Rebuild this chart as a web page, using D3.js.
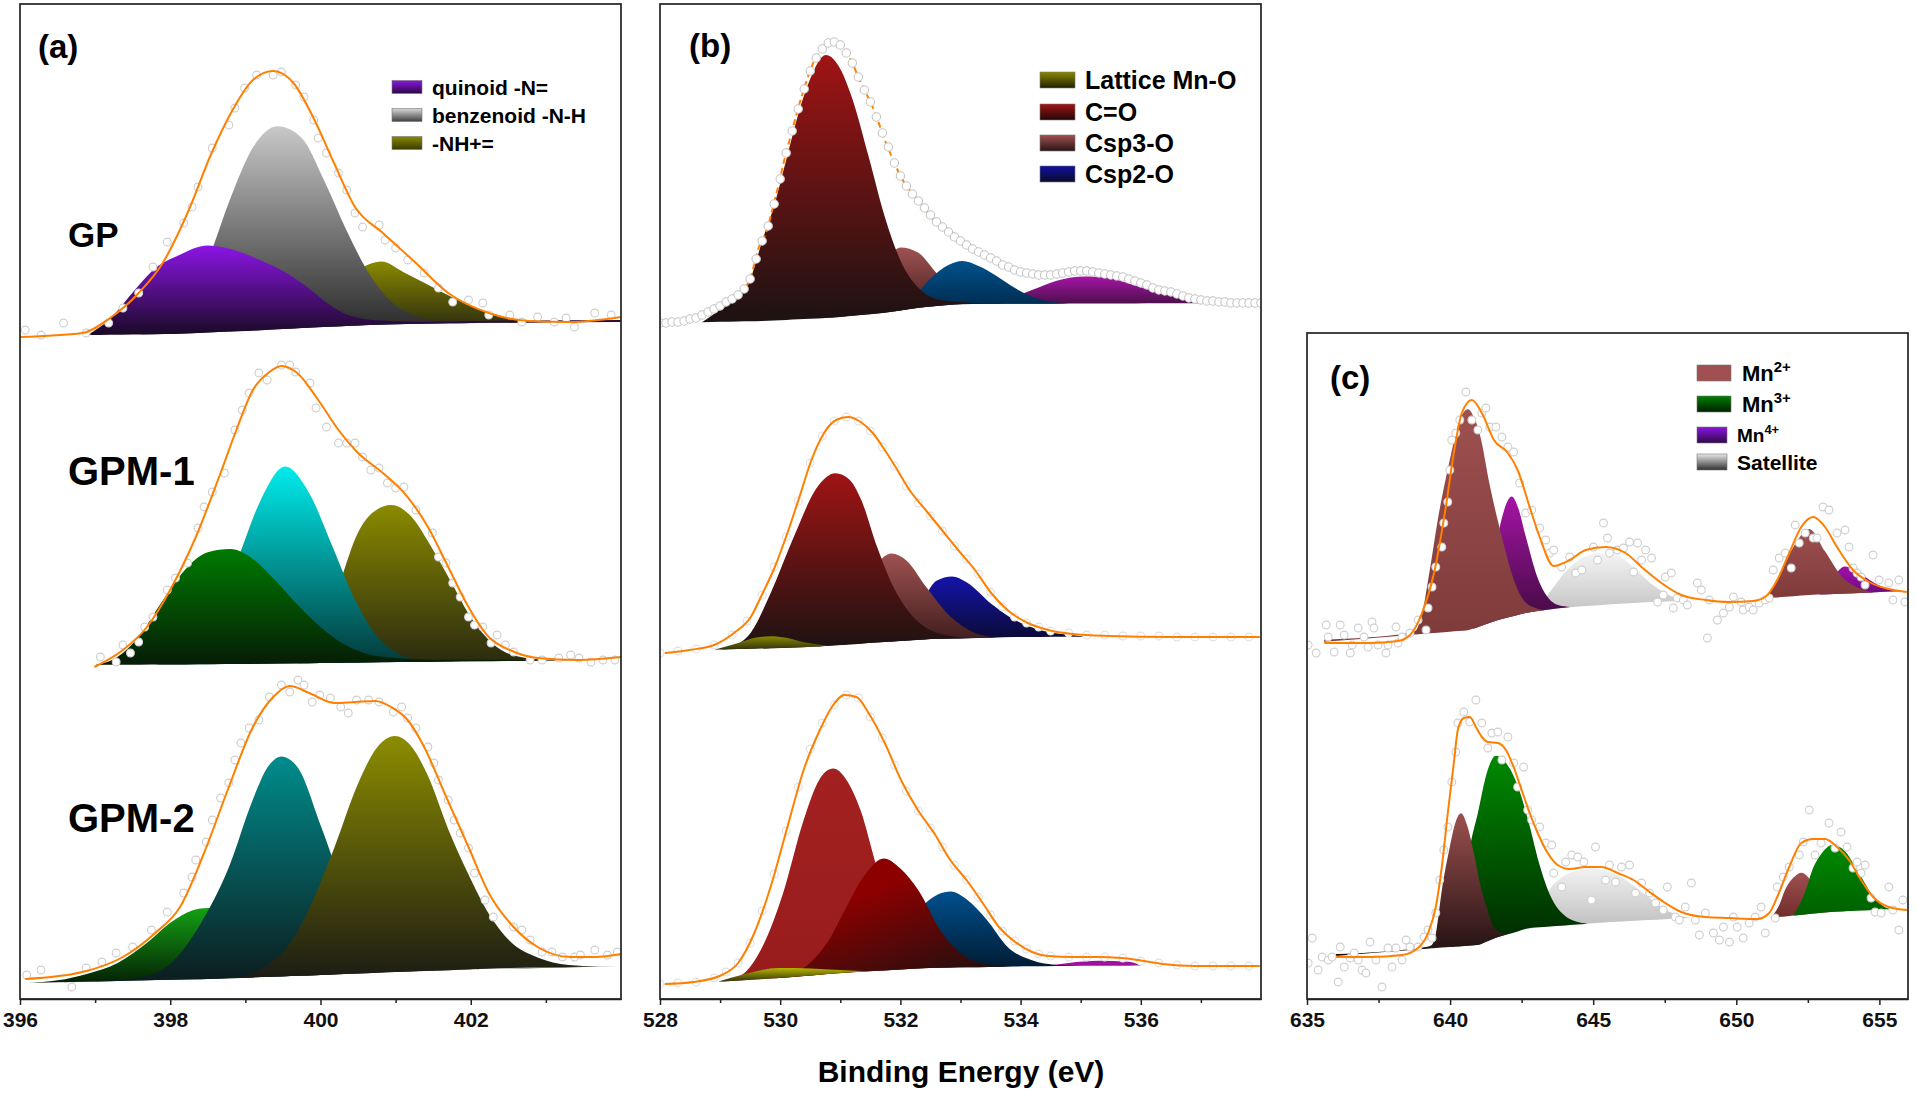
<!DOCTYPE html>
<html><head><meta charset="utf-8">
<script src="https://cdn.jsdelivr.net/npm/d3@7"></script>
<style>body{margin:0;background:#fff}svg{display:block}</style>
</head><body>
<svg id="chart" width="1916" height="1096"></svg>
<script>
// ---------------- DATA (binding energy eV, intensity a.u.) ----------------
const aTicks = [396, 398, 400, 402];
const aMinor = [397, 399, 401, 403];
const bTicks = [528, 530, 532, 534, 536];
const bMinor = [529, 531, 533, 535, 537];
const cTicks = [635, 640, 645, 650, 655];
const cMinor = [637.5, 642.5, 647.5, 652.5];
const xTitle = "Binding Energy (eV)";

// ---- panel (a) N 1s : GP ----
const gpBaseline = [[396.9,664],[398,665],[399,668],[400,672],[401,675],[402,676],[404,677]];
const gpQuinoid = [[396.9,0],[397.2,16],[397.5,42],[397.8,66],[398.1,78],[398.5,87],[398.9,80],[399.2,70],[399.5,58],[399.8,42],[400.1,23],[400.4,10],[400.8,4],[401.3,2],[402,2],[404,2]];
const gpBenzenoid = [[397.6,0],[397.9,8],[398.2,28],[398.5,72],[398.8,133],[399.1,183],[399.43,203],[399.75,190],[400.05,146],[400.35,95],[400.65,51],[400.95,22],[401.3,7],[401.7,1],[402.1,0]];
const gpNH = [[399.5,0],[399.9,14],[400.2,33],[400.5,55],[400.81,63],[401.1,52],[401.4,40],[401.7,28],[402.0,17],[402.3,9],[402.6,3],[403.0,0]];
const gpEnvelope = [[396.0,662],[396.83,666],[397.2,681],[397.58,706],[397.9,736],[398.23,786],[398.55,846],[398.83,889],[399.1,919],[399.37,928],[399.64,916],[399.92,879],[400.18,836],[400.46,792],[400.83,766],[401.27,736],[401.7,706],[402.24,686],[402.78,678],[403.33,677],[404,682]];
const gpPoints = [[396.07,669],[396.28,664],[396.58,676],[396.88,666],[397.18,676],[397.37,691],[397.58,706],[397.77,732],[397.96,757],[398.18,776],[398.29,792],[398.37,812],[398.56,851],[398.78,874],[398.86,891],[398.99,911],[399.15,924],[399.37,924],[399.48,927],[399.67,914],[399.78,902],[399.91,879],[399.97,861],[400.08,846],[400.24,826],[400.35,809],[400.46,786],[400.56,772],[400.78,774],[400.86,759],[401.0,751],[401.16,739],[401.38,726],[401.57,711],[401.76,697],[401.97,699],[402.16,696],[402.24,684],[402.52,684],[402.68,677],[402.89,682],[403.11,677],[403.27,681],[403.38,672],[403.65,686],[403.87,684]];

// ---- panel (a) : GPM-1 ----
const gpm1Baseline = [[397,334],[399,335],[401,337],[404,339]];
const gpm1Quinoid = [[397.0,0],[397.3,8],[397.6,30],[397.9,64],[398.2,95],[398.5,112],[398.8,115],[399.1,105],[399.4,83],[399.7,58],[400.0,36],[400.3,19],[400.6,9],[401.0,4],[401.5,2],[402.7,1],[402.9,0]];
const gpm1Benzenoid = [[397.8,0],[398.2,12],[398.6,50],[398.9,105],[399.2,163],[399.53,197],[399.85,170],[400.15,118],[400.45,64],[400.75,26],[401.05,8],[401.4,1],[401.8,0]];
const gpm1NH = [[399.7,0],[400.0,22],[400.25,78],[400.5,130],[400.7,150],[400.94,157],[401.2,146],[401.45,118],[401.75,78],[402.0,44],[402.3,17],[402.6,5],[403.0,1],[403.5,0]];
const gpm1Envelope = [[396.99,332],[397.37,349],[397.69,372],[398.02,412],[398.34,462],[398.67,526],[398.88,569],[399.1,609],[399.32,627],[399.48,633],[399.69,626],[399.97,599],[400.24,569],[400.5,546],[400.83,526],[401.16,502],[401.43,472],[401.7,432],[401.97,392],[402.24,362],[402.52,349],[402.89,341],[403.43,339],[404,342]];
const gpm1Points = [[397.07,342],[397.28,337],[397.37,354],[397.47,346],[397.58,357],[397.66,372],[397.77,382],[397.96,409],[398.07,421],[398.23,436],[398.37,471],[398.45,492],[398.56,507],[398.72,526],[398.86,569],[398.96,589],[399.05,606],[399.18,626],[399.29,619],[399.48,634],[399.59,634],[399.67,627],[399.86,616],[399.94,591],[400.08,572],[400.24,556],[400.35,556],[400.46,556],[400.56,542],[400.67,529],[400.78,531],[400.89,516],[401.0,511],[401.11,512],[401.27,489],[401.49,466],[401.57,442],[401.67,436],[401.76,416],[401.86,402],[401.97,382],[402.05,374],[402.16,372],[402.27,356],[402.35,364],[402.46,354],[402.57,347],[402.79,339],[402.95,339],[403.17,341],[403.33,344],[403.44,341],[403.6,337],[403.76,339],[403.92,339]];

// ---- panel (a) : GPM-2 ----
const gpm2Baseline = [[396.1,16],[398.5,20],[400,24],[401,27],[402.5,31],[404,33]];
const gpm2Quinoid = [[396.1,0],[396.5,2],[396.9,8],[397.3,18],[397.7,38],[398.0,57],[398.3,69],[398.5,71],[398.8,64],[399.1,46],[399.4,27],[399.7,12],[400.0,4],[400.4,0]];
const gpm2Benzenoid = [[396.1,0],[397.2,1],[397.6,3],[398.0,16],[398.4,55],[398.78,111],[399.1,178],[399.3,210],[399.48,220],[399.7,208],[400.0,150],[400.3,88],[400.6,40],[400.9,14],[401.3,3],[401.7,1],[404,0]];
const gpm2NH = [[398.9,0],[399.3,12],[399.6,33],[399.85,67],[400.18,126],[400.5,190],[400.75,225],[400.99,236],[401.2,226],[401.43,195],[401.7,141],[401.97,95],[402.24,55],[402.52,27],[402.89,10],[403.3,2],[403.7,0]];
const gpm2Envelope = [[396.07,20],[396.83,27],[397.37,42],[397.8,66],[398.13,92],[398.45,146],[398.78,212],[399.1,272],[399.37,302],[399.59,313],[399.85,306],[400.18,296],[400.46,297],[400.73,298],[400.94,292],[401.16,279],[401.38,252],[401.65,206],[401.97,152],[402.24,106],[402.57,72],[402.89,52],[403.33,42],[403.66,42],[404,45]];
const gpm2Points = [[396.09,24],[396.28,29],[396.69,12],[396.88,31],[397.09,37],[397.28,46],[397.5,52],[397.75,69],[397.96,87],[398.18,106],[398.29,122],[398.34,139],[398.48,157],[398.56,179],[398.67,201],[398.78,216],[398.86,239],[398.94,256],[399.05,271],[399.18,279],[399.32,302],[399.48,314],[399.59,307],[399.7,319],[399.78,314],[399.89,297],[399.99,304],[400.13,301],[400.27,292],[400.37,286],[400.48,299],[400.64,299],[400.78,297],[400.97,287],[401.08,292],[401.16,281],[401.27,271],[401.43,252],[401.51,236],[401.57,219],[401.7,199],[401.78,179],[401.86,166],[401.97,151],[402.05,126],[402.19,99],[402.3,82],[402.57,72],[402.68,69],[402.79,59],[402.95,47],[403.08,47],[403.22,42],[403.38,42],[403.46,44],[403.65,49],[403.82,44],[403.95,47]];

// ---- panel (b) O 1s : top ----
const btBaseline = [[528,676],[529.7,678],[530.8,681],[531.7,686],[532.4,692],[533.0,695],[538,696]];
const btCO = [[528.7,0],[529.0,12],[529.3,25],[529.5,42],[529.7,80],[529.9,115],[530.1,160],[530.3,205],[530.5,240],[530.76,263],[531.0,248],[531.2,217],[531.47,158],[531.74,96],[532.0,50],[532.3,20],[532.6,7],[533.0,2],[533.4,0]];
const btCsp3 = [[531.0,0],[531.4,18],[531.7,45],[532.0,63],[532.3,55],[532.6,33],[532.9,14],[533.2,4],[533.6,0]];
const btCsp2 = [[531.9,0],[532.2,10],[532.5,28],[532.8,40],[533.03,43],[533.3,38],[533.6,28],[533.9,16],[534.2,7],[534.5,2],[534.9,0]];
const btExtra = [[533.4,0],[533.8,5],[534.2,14],[534.6,23],[535.07,27],[535.5,25],[535.9,18],[536.3,11],[536.7,5],[537.1,2],[537.4,0]];
const btEnvelope = [[528.08,676],[528.35,678],[528.69,684],[529.03,694],[529.3,704],[529.51,722],[529.64,751],[529.78,769],[529.88,792],[529.98,816],[530.08,842],[530.18,864],[530.29,889],[530.39,909],[530.49,927],[530.59,941],[530.69,949],[530.79,956],[530.9,957],[531.0,954],[531.1,946],[531.2,936],[531.3,922],[531.4,909],[531.51,896],[531.61,881],[531.74,859],[531.88,839],[532.01,822],[532.15,809],[532.29,799],[532.42,789],[532.56,779],[532.69,772],[532.83,766],[532.96,759],[533.1,754],[533.3,747],[533.51,741],[533.71,734],[533.91,729],[534.12,726],[534.39,724],[534.66,726],[534.93,728],[535.2,727],[535.47,724],[535.75,721],[536.02,716],[536.29,709],[536.56,706],[536.83,701],[537.17,698],[537.51,696],[537.98,696]];
const btPoints = [[528.0,676],[528.1,676],[528.2,677],[528.3,677],[528.4,678],[528.5,680],[528.6,681],[528.7,684],[528.8,687],[528.9,690],[529.0,693],[529.1,697],[529.2,700],[529.3,704],[529.4,710],[529.5,720],[529.6,740],[529.7,758],[529.8,773],[529.9,795],[530.0,820],[530.1,846],[530.2,868],[530.3,890],[530.4,910],[530.5,928],[530.6,941],[530.7,950],[530.8,956],[530.9,957],[531.0,954],[531.1,946],[531.2,936],[531.3,922],[531.4,909],[531.5,897],[531.6,882],[531.7,866],[531.8,852],[531.9,836],[532.0,823],[532.1,813],[532.2,805],[532.3,798],[532.4,791],[532.5,784],[532.6,777],[532.7,772],[532.8,767],[532.9,762],[533.0,758],[533.1,754],[533.2,750],[533.3,747],[533.4,744],[533.5,741],[533.6,738],[533.7,734],[533.8,732],[533.9,729],[534.0,727],[534.1,726],[534.2,725],[534.3,724],[534.4,724],[534.5,724],[534.6,725],[534.7,726],[534.8,727],[534.9,728],[535.0,728],[535.1,728],[535.2,727],[535.3,726],[535.4,725],[535.5,724],[535.6,723],[535.7,722],[535.8,720],[535.9,718],[536.0,716],[536.1,714],[536.2,711],[536.3,709],[536.4,708],[536.5,707],[536.6,705],[536.7,703],[536.8,701],[536.9,700],[537.0,699],[537.1,698],[537.2,698],[537.3,697],[537.4,697],[537.5,696],[537.6,696],[537.7,696],[537.8,696],[537.9,696],[538.0,696]];

// ---- panel (b) : middle ----
const bmBaseline = [[528,347],[528.8,349],[530.5,352],[531.5,356],[532.5,360],[534,362],[538,363]];
const bmLattice = [[528.9,0],[529.3,6],[529.6,11],[529.84,12],[530.1,10],[530.4,5],[530.8,0]];
const bmCO = [[529.0,0],[529.3,5],[529.51,16],[529.84,55],[530.25,114],[530.6,158],[530.92,172],[531.15,165],[531.34,145],[531.61,96],[531.88,55],[532.15,28],[532.5,9],[532.9,2],[533.2,0]];
const bmCsp3 = [[530.6,0],[531.0,20],[531.3,48],[531.6,78],[531.85,88],[532.1,80],[532.42,53],[532.83,22],[533.24,5],[533.6,0]];
const bmCsp2 = [[531.8,0],[532.1,12],[532.4,42],[532.6,58],[532.86,62],[533.1,56],[533.51,34],[533.91,17],[534.32,7],[534.8,2],[535.1,0]];
const bmEnvelope = [[528.08,346],[528.49,349],[528.9,354],[529.23,366],[529.51,382],[529.71,406],[529.91,432],[530.12,466],[530.32,502],[530.52,539],[530.73,566],[530.93,579],[531.13,582],[531.34,577],[531.54,566],[531.74,549],[531.95,529],[532.15,509],[532.42,489],[532.69,469],[532.96,449],[533.24,429],[533.51,406],[533.78,389],[534.12,376],[534.46,369],[534.86,365],[535.47,363],[536.49,362],[537.98,362]];
const bmPoints = [[528.0,346],[528.3,348],[528.6,350],[528.9,354],[529.2,364],[529.45,378],[529.7,404],[529.9,432],[530.1,462],[530.3,498],[530.5,536],[530.7,563],[530.9,578],[531.1,582],[531.3,578],[531.5,568],[531.7,552],[531.9,533],[532.1,513],[532.3,496],[532.5,483],[532.7,468],[532.9,453],[533.1,440],[533.3,425],[533.5,407],[533.7,392],[533.9,382],[534.1,376],[534.3,372],[534.5,368],[534.8,366],[535.1,364],[535.4,364],[535.7,363],[536.0,363],[536.3,363],[536.6,362],[536.9,362],[537.2,362],[537.5,362],[537.8,362]];

// ---- panel (b) : bottom ----
const bbBaseline = [[528,15],[528.9,17],[530.0,21],[531,26],[532.4,31],[534.5,33],[538,34]];
const bbLattice = [[528.96,0],[529.4,6],[529.98,10],[530.5,7],[531.0,3],[531.5,0]];
const bbCO = [[529.0,0],[529.2,2],[529.44,9],[529.71,33],[530.05,85],[530.39,156],[530.65,195],[530.88,205],[531.1,193],[531.34,161],[531.6,105],[531.9,50],[532.2,18],[532.5,5],[532.9,0]];
const bbCsp3 = [[529.9,0],[530.2,3],[530.52,14],[530.8,33],[531.07,62],[531.4,96],[531.72,112],[532.0,101],[532.29,79],[532.69,35],[533.1,10],[533.5,2],[533.8,0]];
const bbCsp2 = [[531.6,0],[532.0,15],[532.42,65],[532.84,76],[533.1,68],[533.44,47],[533.78,20],[534.19,6],[534.6,1],[535,0]];
const bbExtra = [[534.4,0],[534.8,3],[535.3,5],[535.8,4],[536.0,0]];
const bbEnvelope = [[528.08,15],[528.56,17],[529.03,24],[529.3,36],[529.57,66],[529.84,112],[530.12,172],[530.39,229],[530.66,269],[530.86,292],[531.07,304],[531.27,302],[531.47,286],[531.74,256],[532.01,219],[532.29,189],[532.56,166],[532.83,139],[533.1,119],[533.37,96],[533.64,72],[533.91,57],[534.19,47],[534.46,43],[534.86,42],[535.27,42],[535.68,41],[535.95,39],[536.36,35],[536.9,33],[537.98,33]];
const bbPoints = [[528.0,15],[528.3,16],[528.6,17],[528.9,21],[529.1,27],[529.3,36],[529.5,56],[529.7,88],[529.9,125],[530.1,168],[530.3,212],[530.5,250],[530.7,276],[530.9,294],[531.1,304],[531.3,301],[531.5,282],[531.7,261],[531.9,234],[532.1,208],[532.3,188],[532.5,171],[532.7,152],[532.9,134],[533.1,119],[533.3,102],[533.5,84],[533.7,68],[533.9,58],[534.1,50],[534.3,45],[534.5,43],[534.8,42],[535.1,42],[535.4,42],[535.7,41],[536.0,38],[536.3,36],[536.6,34],[536.9,33],[537.2,33],[537.5,33],[537.8,33]];

// ---- panel (c) Mn 2p : top ----
const ctBaseline = [[635,356],[638.6,364],[640.69,369],[641.67,379],[642.78,387],[644.18,392],[646.97,397],[651.15,401],[652.55,404],[656,408]];
const ctMn2a = [[635.6,2],[638.6,2],[638.8,4],[639.0,18],[639.3,65],[639.57,113],[639.99,172],[640.3,208],[640.62,221],[640.85,210],[641.04,192],[641.39,137],[641.81,82],[642.23,36],[642.6,12],[643.0,3],[643.3,0]];
const ctMn4a = [[640.8,0],[641.2,15],[641.5,58],[641.8,100],[642.15,120],[642.4,105],[642.64,77],[643.06,33],[643.4,13],[643.8,3],[644.2,0]];
const ctSat = [[643.0,0],[643.5,18],[644.0,35],[644.6,48],[645.2,52],[645.8,49],[646.4,36],[647.0,19],[647.6,7],[648.2,0]];
const ctMn2b = [[651.0,0],[651.4,15],[651.99,49],[652.55,66],[653.1,43],[653.66,18],[654.36,4],[654.8,0]];
const ctMn4b = [[652.9,0],[653.3,14],[653.8,27],[654.3,20],[654.8,10],[655.3,3],[655.8,0]];
const ctEnvelope = [[635.6,356],[637.2,356],[638.18,358],[638.6,364],[639.02,386],[639.44,426],[639.85,492],[640.13,546],[640.41,586],[640.76,599],[641.11,586],[641.53,559],[642.02,546],[642.36,529],[642.78,492],[643.13,462],[643.62,433],[644.18,439],[644.74,449],[645.43,452],[646.13,446],[646.69,432],[647.38,416],[648.08,404],[648.92,399],[649.76,397],[650.59,398],[651.01,402],[651.43,419],[651.85,446],[652.27,472],[652.69,482],[653.1,472],[653.52,452],[654.08,429],[654.64,417],[655.33,410],[655.96,407]];
const ctPoints = [[635.04,354],[635.32,346],[635.67,374],[635.74,362],[635.95,347],[636.16,374],[636.3,364],[636.51,346],[636.58,354],[636.79,371],[636.99,362],[637.13,352],[637.27,377],[637.34,371],[637.48,354],[637.76,346],[637.83,354],[638.11,372],[638.18,356],[638.32,362],[638.6,366],[638.88,379],[639.16,369],[639.23,391],[639.37,412],[639.5,432],[639.71,452],[639.78,476],[639.92,497],[639.99,529],[640.06,559],[640.2,566],[640.34,579],[640.55,607],[640.76,579],[640.97,569],[641.11,586],[641.25,591],[641.39,572],[641.6,572],[641.81,562],[642.02,552],[642.22,547],[642.43,516],[642.64,486],[642.85,489],[643.13,471],[643.34,459],[643.48,446],[643.62,449],[643.9,432],[644.18,442],[644.39,426],[644.6,429],[645.01,452],[645.15,439],[645.36,476],[645.5,461],[645.57,446],[645.85,449],[646.06,451],[646.27,457],[646.41,427],[646.55,456],[646.69,439],[646.83,449],[647.04,441],[647.25,397],[647.45,404],[647.52,422],[647.73,426],[647.8,391],[647.94,401],[648.15,399],[648.29,394],[648.64,416],[648.78,409],[648.99,361],[649.06,399],[649.34,379],[649.55,386],[649.76,392],[649.9,402],[650.17,397],[650.24,389],[650.45,392],[650.59,389],[650.8,396],[651.01,399],[651.15,401],[651.29,429],[651.5,441],[651.71,446],[651.92,431],[652.06,474],[652.2,456],[652.41,466],[652.69,461],[652.82,461],[653.03,492],[653.24,489],[653.52,466],[653.8,469],[653.94,452],[654.08,431],[654.22,426],[654.36,422],[654.5,414],[654.78,444],[654.99,419],[655.33,416],[655.47,399],[655.68,419],[655.89,397]];

// ---- panel (c) : bottom ----
const cbBaseline = [[635,42],[636.02,43],[639.02,50],[640.97,54],[641.67,62],[642.78,71],[645.57,77],[648.36,81],[651.15,81],[653.24,87],[655.47,90],[656,90]];
const cbMn2a = [[636.0,2],[639.2,2],[639.35,3],[639.5,14],[639.71,57],[639.99,100],[640.2,125],[640.38,133],[640.6,120],[640.83,92],[641.05,60],[641.25,37],[641.45,17],[641.7,5],[642.0,0]];
const cbMn3a = [[640.0,0],[640.2,10],[640.5,65],[640.69,98],[640.97,132],[641.3,170],[641.6,182],[641.95,172],[642.36,146],[642.78,102],[643.1,65],[643.4,38],[643.7,20],[644.0,10],[644.4,3],[644.8,0]];
const cbSat = [[642.6,0],[643.0,12],[643.5,38],[644.0,50],[644.5,54],[645.0,55],[645.5,51],[646.0,44],[646.5,33],[646.97,22],[647.5,10],[648.0,3],[648.4,0]];
const cbMn2b = [[651.2,0],[651.5,12],[651.71,27],[652.0,38],[652.29,42],[652.6,34],[652.96,20],[653.4,7],[653.8,0]];
const cbMn3b = [[652.0,0],[652.4,22],[652.69,46],[653.0,60],[653.38,67],[653.8,60],[654.22,41],[654.78,14],[655.3,1],[655.5,0]];
const cbEnvelope = [[636.02,42],[637.2,42],[638.32,44],[638.88,51],[639.23,66],[639.5,92],[639.71,132],[639.92,186],[640.13,236],[640.27,269],[640.48,281],[640.69,282],[640.9,272],[641.11,262],[641.32,257],[641.67,256],[641.95,249],[642.22,232],[642.5,209],[642.78,186],[643.06,166],[643.41,146],[643.76,134],[644.18,130],[644.74,132],[645.29,132],[645.85,126],[646.41,119],[646.97,107],[647.52,96],[648.08,87],[648.92,82],[649.76,81],[650.73,80],[651.15,86],[651.43,102],[651.85,132],[652.27,156],[652.69,160],[653.1,160],[653.52,152],[653.94,139],[654.36,119],[654.78,102],[655.33,92],[655.96,89]];
const cbPoints = [[635.04,36],[635.18,61],[635.39,29],[635.53,42],[635.74,39],[635.88,42],[636.09,17],[636.16,52],[636.3,32],[636.51,41],[636.65,46],[636.79,39],[636.92,29],[637.06,26],[637.2,57],[637.41,39],[637.62,12],[637.83,51],[637.97,32],[638.11,51],[638.32,39],[638.46,59],[638.6,52],[638.88,52],[639.09,62],[639.23,69],[639.37,61],[639.5,86],[639.64,119],[639.78,149],[639.92,172],[640.06,217],[640.2,247],[640.27,276],[640.48,287],[640.69,277],[640.9,299],[641.11,276],[641.32,251],[641.46,266],[641.67,267],[641.81,239],[642.02,262],[642.22,236],[642.36,212],[642.57,232],[642.71,189],[642.85,179],[643.13,172],[643.34,156],[643.55,154],[643.62,126],[643.9,112],[644.04,137],[644.25,144],[644.46,142],[644.67,137],[644.94,99],[645.08,152],[645.43,119],[645.57,134],[645.78,117],[645.99,132],[646.27,134],[646.48,106],[646.69,116],[646.97,106],[647.18,96],[647.45,89],[647.59,112],[647.87,82],[648.01,79],[648.22,92],[648.43,116],[648.57,79],[648.71,64],[648.92,86],[649.2,66],[649.41,59],[649.55,72],[649.76,57],[649.9,82],[650.03,72],[650.24,61],[650.45,76],[650.66,82],[650.87,92],[651.01,66],[651.36,81],[651.43,112],[651.64,122],[651.85,132],[652.2,144],[652.34,157],[652.55,189],[652.75,144],[652.96,156],[653.24,176],[653.45,151],[653.66,167],[653.87,152],[654.08,131],[654.22,137],[654.36,126],[654.5,134],[654.71,101],[654.85,87],[655.06,86],[655.33,112],[655.47,89],[655.68,69],[655.82,99]];

// legend labels
const legendA = ["quinoid -N=", "benzenoid -N-H", "-NH+="];
const legendB = ["Lattice Mn-O", "C=O", "Csp3-O", "Csp2-O"];
const legendC = [["Mn","2+"],["Mn","3+"],["Mn","4+"],["Satellite",""]];
const sampleLabels = ["GP", "GPM-1", "GPM-2"];

// ---------------- STYLE / LAYOUT ----------------
const FONT = '"Liberation Sans", Arial, Helvetica, sans-serif';
const ORANGE = "#ff8000";
const svg = d3.select("#chart");
const defs = svg.append("defs");
let gcount = 0;
function grad(top, bottom, dir) {
  const id = "g" + (gcount++);
  const d = dir || [0, 0, 0, 1];
  const lg = defs.append("linearGradient").attr("id", id)
    .attr("x1", d[0]).attr("y1", d[1]).attr("x2", d[2]).attr("y2", d[3]);
  lg.append("stop").attr("offset", "0").attr("stop-color", top);
  lg.append("stop").attr("offset", "1").attr("stop-color", bottom);
  return "url(#" + id + ")";
}

const C = {
  purple: ["#8c15e6", "#1a0a26"], gray: ["#c8c8c8", "#262626"], olive: ["#8a8a00", "#2a2a10"],
  green1: ["#007a00", "#061c06"], cyan: ["#00ecec", "#043838"],
  green2: ["#14a014", "#052205"], teal: ["#008c8c", "#0c1c1e"], olive2: ["#8c8c00", "#1c1c14"],
  red: ["#a01414", "#1c1212"], csp3: ["#a05252", "#3a1a1a"], blueT: ["#00528c", "#00284a"],
  mag: ["#a614a6", "#4a104a"], blueM: ["#1414aa", "#0a0a30"], lattice: ["#8a8a00", "#303010"],
  latticeB: ["#b4b400", "#303010"], blueB: ["#00508e", "#001a30"], red1: ["#a32020", "#981c1c"],
  satT: ["#f4f4f4", "#c4c4c4"], mn4: ["#a614a6", "#3a0a3a"], mn2T: ["#9e5050", "#7e3a3a"],
  mn4b: ["#a010a8", "#700a80"], satB: ["#f2f2f2", "#bdbdbd"], mn2B: ["#9c5050", "#201010"],
  mn3: ["#008a00", "#002800"], mn2B2: ["#a05050", "#702c2c"], mn3b: ["#008a00", "#006000"]
};

const panels = [
  { key: "a", left: 20, right: 621, top: 4, bottom: 999, domain: [396, 404], ticks: aTicks, minor: aMinor, label: "(a)", lx: 38, ly: 58,
    spectra: [
      { base: gpBaseline, env: gpEnvelope, pts: gpPoints, comps: [[gpNH, C.olive], [gpBenzenoid, C.gray], [gpQuinoid, C.purple]] },
      { base: gpm1Baseline, env: gpm1Envelope, pts: gpm1Points, comps: [[gpm1NH, C.olive], [gpm1Benzenoid, C.cyan], [gpm1Quinoid, C.green1]] },
      { base: gpm2Baseline, env: gpm2Envelope, pts: gpm2Points, comps: [[gpm2Quinoid, C.green2], [gpm2Benzenoid, C.teal], [gpm2NH, C.olive2]] }
    ] },
  { key: "b", left: 660, right: 1261, top: 4, bottom: 999, domain: [528, 538], ticks: bTicks, minor: bMinor, label: "(b)", lx: 689, ly: 57,
    spectra: [
      { base: btBaseline, env: btEnvelope, pts: btPoints, dashed: true, ptsOnTop: true, strong: true, comps: [[btExtra, C.mag], [btCsp3, C.csp3], [btCsp2, C.blueT], [btCO, C.red]] },
      { base: bmBaseline, env: bmEnvelope, pts: bmPoints, faint: true, comps: [[bmCsp2, C.blueM], [bmCsp3, C.csp3], [bmCO, C.red], [bmLattice, C.lattice]] },
      { base: bbBaseline, env: bbEnvelope, pts: bbPoints, faint: true, comps: [[bbExtra, ["#a010a0", "#a010a0"]], [bbCsp2, C.blueB], [bbCO, C.red1], [bbCsp3, ["#8c0000", "#1e1010"], [0.45, 0.25, 0.95, 0.95]], [bbLattice, C.latticeB]] }
    ] },
  { key: "c", left: 1307, right: 1908, top: 333, bottom: 999, domain: [635, 656], ticks: cTicks, minor: cMinor, label: "(c)", lx: 1330, ly: 389,
    spectra: [
      { base: ctBaseline, env: ctEnvelope, pts: ctPoints, comps: [[ctSat, C.satT], [ctMn4a, C.mn4], [ctMn2a, C.mn2T], [ctMn4b, C.mn4b], [ctMn2b, C.mn2T]] },
      { base: cbBaseline, env: cbEnvelope, pts: cbPoints, comps: [[cbSat, C.satB], [cbMn3a, C.mn3], [cbMn2a, C.mn2B], [cbMn2b, C.mn2B2], [cbMn3b, C.mn3b]] }
    ] }
];

panels.forEach(p => {
  const x = d3.scaleLinear().domain(p.domain).range([p.left, p.right]);
  const y = d3.scaleLinear().domain([0, p.bottom - p.top]).range([p.bottom, p.top]);
  const clipId = "clip" + p.key;
  defs.append("clipPath").attr("id", clipId).append("rect")
    .attr("x", p.left).attr("y", p.top).attr("width", p.right - p.left).attr("height", p.bottom - p.top);
  const g = svg.append("g").attr("clip-path", "url(#" + clipId + ")");

  p.spectra.forEach(s => {
    const base = d3.scaleLinear().domain(s.base.map(d => d[0])).range(s.base.map(d => d[1])).clamp(true);
    const area = d3.area().curve(d3.curveMonotoneX)
      .x(d => x(d[0])).y0(d => y(base(d[0]))).y1(d => y(base(d[0]) + d[1]));
    s.comps.forEach(c => {
      g.append("path").datum(c[0]).attr("d", area).attr("fill", grad(c[1][0], c[1][1], c[2]));
    });
    const line = d3.line().curve(d3.curveMonotoneX).x(d => x(d[0])).y(d => y(d[1]));
    const drawPts = () => g.append("g").selectAll("circle").data(s.pts).join("circle")
      .attr("cx", d => x(d[0])).attr("cy", d => y(d[1])).attr("r", s.strong ? 4.2 : 3.9)
      .attr("fill", "#fff").attr("stroke", s.faint ? "#e0e0e0" : (s.strong ? "#c4c4c4" : "#cfcfcf")).attr("stroke-width", 1.1);
    const drawEnv = () => g.append("path").datum(s.env).attr("d", line).attr("fill", "none")
      .attr("stroke", ORANGE).attr("stroke-width", 2).attr("stroke-dasharray", s.dashed ? "6,4" : null);
    if (s.ptsOnTop) { drawEnv(); drawPts(); } else { drawPts(); drawEnv(); }
  });

  // frame
  svg.append("rect").attr("x", p.left).attr("y", p.top).attr("width", p.right - p.left).attr("height", p.bottom - p.top)
    .attr("fill", "none").attr("stroke", "#222").attr("stroke-width", 1.7);

  // axes
  const ax = svg.append("g").attr("transform", "translate(0," + p.bottom + ")")
    .call(d3.axisBottom(x).tickValues(p.ticks).tickSize(6).tickSizeOuter(0).tickPadding(7).tickFormat(d3.format("d")));
  ax.select(".domain").attr("stroke", "#222").attr("stroke-width", 1.7);
  ax.selectAll(".tick line").attr("stroke", "#222").attr("stroke-width", 1.5);
  ax.selectAll("text").attr("font-family", FONT).attr("font-weight", "bold").attr("font-size", 21).attr("fill", "#111");
  const axm = svg.append("g").attr("transform", "translate(0," + p.bottom + ")")
    .call(d3.axisBottom(x).tickValues(p.minor).tickSize(4).tickSizeOuter(0).tickFormat(""));
  axm.select(".domain").remove();
  axm.selectAll(".tick line").attr("stroke", "#222").attr("stroke-width", 1.5);

  svg.append("text").attr("x", p.lx).attr("y", p.ly).text(p.label)
    .attr("font-family", FONT).attr("font-weight", "bold").attr("font-size", 33).attr("fill", "#000");
});

// sample labels in panel (a)
const sampleY = [247, 485, 832];
const sampleSize = [35, 40, 40];
sampleLabels.forEach((t, i) => {
  svg.append("text").attr("x", 68).attr("y", sampleY[i]).text(t)
    .attr("font-family", FONT).attr("font-weight", "bold").attr("font-size", sampleSize[i]).attr("fill", "#000");
});

// legends
function legend(items, colors, sx, sw, sh, rows, tx, fs) {
  items.forEach((it, i) => {
    const cy = rows[i];
    svg.append("rect").attr("x", sx).attr("y", cy - sh / 2).attr("width", sw[i]).attr("height", sh)
      .attr("fill", grad(colors[i][0], colors[i][1])).attr("stroke", "#777").attr("stroke-width", 0.6);
    const t = svg.append("text").attr("x", tx[i]).attr("y", cy + fs[i] * 0.36)
      .attr("font-family", FONT).attr("font-weight", "bold").attr("font-size", fs[i]).attr("fill", "#000");
    if (Array.isArray(it)) {
      t.append("tspan").text(it[0]);
      if (it[1]) t.append("tspan").attr("dy", -fs[i] * 0.42).attr("font-size", fs[i] * 0.68).text(it[1]);
    } else t.text(it);
  });
}
legend(legendA, [["#8c15e6", "#2a0a40"], ["#d8d8d8", "#404040"], ["#8a8a00", "#3a3a00"]],
  392, [30, 30, 30], 13, [87, 115, 143], [432, 432, 432], [21, 21, 21]);
legend(legendB, [["#8a8a00", "#202000"], ["#a01414", "#200808"], ["#a05050", "#2a1515"], ["#1010a0", "#0a0a2a"]],
  1040, [35, 35, 35, 35], 16, [80, 112, 143, 174], [1085, 1085, 1085, 1085], [25, 25, 25, 25]);
legend(legendC, [["#a05050", "#a05050"], ["#008000", "#002000"], ["#8a14e0", "#30084a"], ["#e8e8e8", "#303030"]],
  1697, [34, 34, 30, 30], 16, [373, 404, 435, 462], [1742, 1742, 1737, 1737], [22, 22, 19, 21]);

// axis title
svg.append("text").attr("x", 961).attr("y", 1082).attr("text-anchor", "middle").text(xTitle)
  .attr("font-family", FONT).attr("font-weight", "bold").attr("font-size", 30).attr("fill", "#000");
</script>
</body></html>
